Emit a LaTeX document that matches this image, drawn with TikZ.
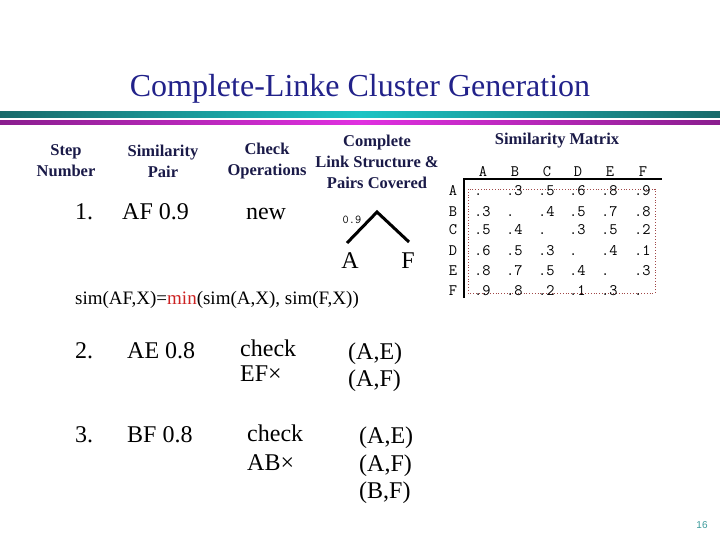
\documentclass[tikz,border=0pt]{standalone}
\usepackage{fontspec}
\setmainfont{Liberation Serif}
\setsansfont{Liberation Sans}
\newfontfamily\matFont{Latin Modern Mono}
\usetikzlibrary{positioning}
\definecolor{slideNavy}{HTML}{22228A}
\definecolor{slideInk}{HTML}{1A1A48}
\definecolor{slideRed}{HTML}{CC2222}
\definecolor{slideDot}{HTML}{A04848}
\definecolor{barTeal}{HTML}{1CC4C4}
\definecolor{barTealDark}{HTML}{186A6A}
\definecolor{barMagenta}{HTML}{E030E0}
\definecolor{barMagentaDark}{HTML}{8A1E8E}
\definecolor{pageTeal}{HTML}{3A9A9A}

\begin{document}
\begin{tikzpicture}[x=1pt, y=-1pt,
    slideTitle/.style={font=\fontsize{32}{36}\selectfont, text=slideNavy, inner sep=0pt},
    colHead/.style={align=center, font=\bfseries\fontsize{16.5}{21}\selectfont, text=slideInk, inner sep=0pt},
    rowText/.style={font=\fontsize{24}{28}\selectfont, inner sep=0pt, anchor=base west},
    simText/.style={font=\fontsize{19}{22}\selectfont, inner sep=0pt, anchor=base},
    matHead/.style={font=\matFont\fontsize{16}{18}\selectfont, inner sep=0pt, anchor=base},
    matCell/.style={font=\matFont\fontsize{16}{18}\selectfont, inner sep=0pt, anchor=base west},
    treeLine/.style={line width=3pt},
    matLine/.style={line width=2.2pt},
]
\useasboundingbox (0,0) rectangle (720,540);
% title and bars
\node[slideTitle] (title) at (360,89) {Complete-Linke Cluster Generation};
\shade[left color=barTealDark, right color=barTealDark, middle color=barTeal] (0,112) rectangle (720,118);
\shade[left color=barMagentaDark, right color=barMagentaDark, middle color=barMagenta] (0,121) rectangle (720,124.5);
% column heads
\node[colHead] (hStep)  at (66,161)  {Step\\Number};
\node[colHead] (hPair)  at (163,161) {Similarity\\Pair};
\node[colHead] (hCheck) at (267,161) {Check\\Operations};
\node[colHead] (hLink)  at (377,162) {Complete\\Link Structure \&\\Pairs Covered};
% step 1
\node[rowText, anchor=base] (s1)    at (84,220)  {1.};
\node[rowText] (pairAF)             at (122,220) {AF 0.9};
\node[rowText, anchor=base] (chk1)  at (266,219) {new};
\coordinate (treeTop) at (377,212);
\coordinate (legA) at (347,243);
\coordinate (legF) at (409,242);
\draw[treeLine] (legA) -- (treeTop) -- (legF);
\node[font=\matFont\fontsize{12}{14}\selectfont, inner sep=0pt, anchor=base] (lvl09) at (352,223) {0.9};
\node[rowText, anchor=base] (leafA) at (350,268) {A};
\node[rowText, anchor=base] (leafF) at (408,268) {F};
\node[simText] (simRule) at (217,304) {sim(AF,X)=\textcolor{slideRed}{min}(sim(A,X), sim(F,X))};
% step 2
\node[rowText, anchor=base] (s2) at (84,358) {2.};
\node[rowText] (pairAE)  at (127,358) {AE 0.8};
\node[rowText] (chk2a)   at (240,356) {check};
\node[rowText] (chk2b)   at (240,381) {EF×};
\node[rowText] (cov2a)   at (348,359) {(A,E)};
\node[rowText] (cov2b)   at (348,386) {(A,F)};
% step 3
\node[rowText, anchor=base] (s3) at (84,442) {3.};
\node[rowText] (pairBF)  at (127,442) {BF 0.8};
\node[rowText] (chk3a)   at (247,441) {check};
\node[rowText] (chk3b)   at (247,470) {AB×};
\node[rowText] (cov3a)   at (359,443) {(A,E)};
\node[rowText] (cov3b)   at (359,471) {(A,F)};
\node[rowText] (cov3c)   at (359,498) {(B,F)};
% similarity matrix
\node[colHead] (matTitle) at (557,141) {Similarity Matrix};
\node[matHead] (colA) at (483,177) {A};
\node[matHead] (colB) at (515,177) {B};
\node[matHead] (colC) at (547,177) {C};
\node[matHead] (colD) at (578,177) {D};
\node[matHead] (colE) at (610,177) {E};
\node[matHead] (colF) at (643,177) {F};
\node[matHead] (rowA) at (453,196) {A};
\node[matHead] (rowB) at (453,216) {B};
\node[matHead] (rowC) at (453,235) {C};
\node[matHead] (rowD) at (453,255) {D};
\node[matHead] (rowE) at (453,275) {E};
\node[matHead] (rowF) at (453,295) {F};
\draw[matLine] (464,298) -- (464,179) -- (662,179);
\draw[slideDot, dotted, line width=0.8pt] (468,189) rectangle (655,293);
\node[matCell] (cAA) at (474,196) {.};
\node[matCell] (cAB) at (506,196) {.3};
\node[matCell] (cAC) at (538,196) {.5};
\node[matCell] (cAD) at (569,196) {.6};
\node[matCell] (cAE) at (601,196) {.8};
\node[matCell] (cAF) at (634,196) {.9};
\node[matCell] (cBA) at (474,216) {.3};
\node[matCell] (cBB) at (506,216) {.};
\node[matCell] (cBC) at (538,216) {.4};
\node[matCell] (cBD) at (569,216) {.5};
\node[matCell] (cBE) at (601,216) {.7};
\node[matCell] (cBF) at (634,216) {.8};
\node[matCell] (cCA) at (474,235) {.5};
\node[matCell] (cCB) at (506,235) {.4};
\node[matCell] (cCC) at (538,235) {.};
\node[matCell] (cCD) at (569,235) {.3};
\node[matCell] (cCE) at (601,235) {.5};
\node[matCell] (cCF) at (634,235) {.2};
\node[matCell] (cDA) at (474,255) {.6};
\node[matCell] (cDB) at (506,255) {.5};
\node[matCell] (cDC) at (538,255) {.3};
\node[matCell] (cDD) at (569,255) {.};
\node[matCell] (cDE) at (601,255) {.4};
\node[matCell] (cDF) at (634,255) {.1};
\node[matCell] (cEA) at (474,275) {.8};
\node[matCell] (cEB) at (506,275) {.7};
\node[matCell] (cEC) at (538,275) {.5};
\node[matCell] (cED) at (569,275) {.4};
\node[matCell] (cEE) at (601,275) {.};
\node[matCell] (cEF) at (634,275) {.3};
\node[matCell] (cFA) at (474,295) {.9};
\node[matCell] (cFB) at (506,295) {.8};
\node[matCell] (cFC) at (538,295) {.2};
\node[matCell] (cFD) at (569,295) {.1};
\node[matCell] (cFE) at (601,295) {.3};
\node[matCell] (cFF) at (634,295) {.};
% page number
\node[font=\sffamily\fontsize{10}{12}\selectfont, text=pageTeal, inner sep=0pt] (pageNo) at (702,525) {16};
\end{tikzpicture}
\end{document}
